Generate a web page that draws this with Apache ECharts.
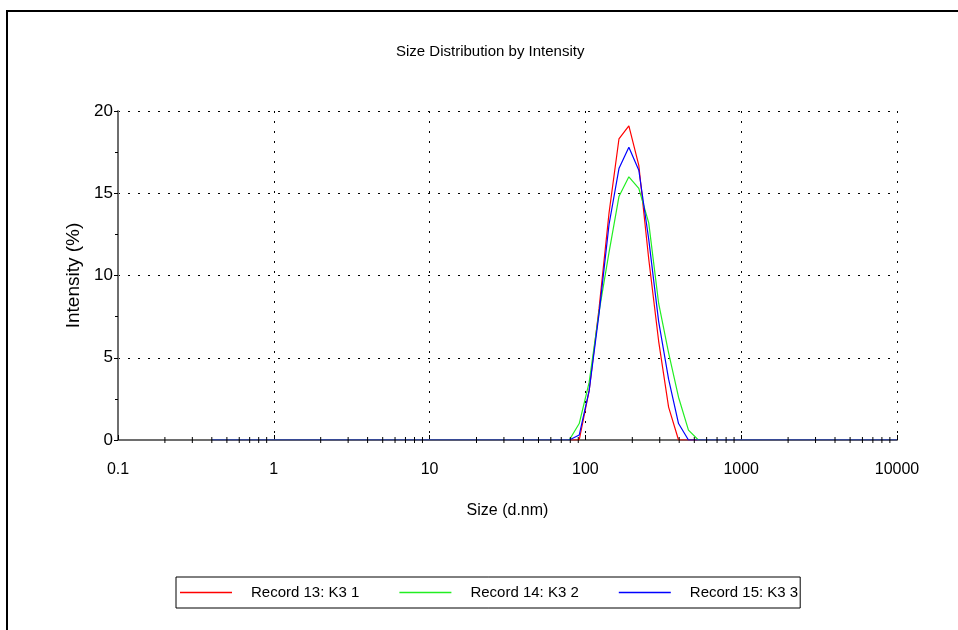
<!DOCTYPE html>
<html>
<head>
<meta charset="utf-8">
<script src="https://cdn.jsdelivr.net/npm/echarts@6/dist/echarts.min.js"></script>
<style>
html, body { margin: 0; padding: 0; background: #fff; }
#main { width: 958px; height: 630px; }
</style>
</head>
<body>
<div id="main"></div>
<script>
var FONT = '"Liberation Sans Narrow", "Liberation Sans", Arial, sans-serif';

// size classes (d.nm)
var sizes = [
    0.4, 0.4632, 0.5365, 0.6213, 0.7195, 0.8332, 0.9649, 1.117, 1.294, 1.499,
    1.736, 2.01, 2.328, 2.696, 3.122, 3.615, 4.187, 4.849, 5.615, 6.503,
    7.531, 8.721, 10.1, 11.7, 13.54, 15.69, 18.17, 21.04, 24.36, 28.21,
    32.67, 37.84, 43.82, 50.75, 58.77, 68.06, 78.82, 91.28, 105.7, 122.4,
    141.8, 164.2, 190.1, 220.2, 255, 295.3, 342, 396.1, 458.7, 531.2,
    615.1, 712.4, 825, 955.4, 1106, 1281, 1484, 1718, 1990, 2305,
    2669, 3091, 3580, 4145, 4801, 5560, 6439, 7456, 8635, 10000
];

// intensity (%)
var record13 = [
    0, 0, 0, 0, 0, 0, 0, 0, 0, 0, 0, 0, 0, 0, 0, 0, 0, 0, 0, 0,
    0, 0, 0, 0, 0, 0, 0, 0, 0, 0, 0, 0, 0, 0, 0, 0,
    0, 0, 3.0, 8.0, 13.8, 18.3, 19.1, 16.7, 11.0, 6.0, 2.0, 0, 0, 0,
    0, 0, 0, 0, 0, 0, 0, 0, 0, 0, 0, 0, 0, 0, 0, 0, 0, 0, 0, 0
];
var record14 = [
    0, 0, 0, 0, 0, 0, 0, 0, 0, 0, 0, 0, 0, 0, 0, 0, 0, 0, 0, 0,
    0, 0, 0, 0, 0, 0, 0, 0, 0, 0, 0, 0, 0, 0, 0, 0,
    0, 1.0, 3.5, 7.8, 11.4, 14.8, 16.0, 15.3, 13.2, 8.3, 5.3, 2.6, 0.6, 0,
    0, 0, 0, 0, 0, 0, 0, 0, 0, 0, 0, 0, 0, 0, 0, 0, 0, 0, 0, 0
];
var record15 = [
    0, 0, 0, 0, 0, 0, 0, 0, 0, 0, 0, 0, 0, 0, 0, 0, 0, 0, 0, 0,
    0, 0, 0, 0, 0, 0, 0, 0, 0, 0, 0, 0, 0, 0, 0, 0,
    0, 0.3, 3.0, 7.7, 13.1, 16.5, 17.8, 16.4, 12.2, 7.2, 3.7, 1.0, 0, 0,
    0, 0, 0, 0, 0, 0, 0, 0, 0, 0, 0, 0, 0, 0, 0, 0, 0, 0, 0, 0
];

var seriesNames = ['Record 13: K3 1', 'Record 14: K3 2', 'Record 15: K3 3'];
var seriesColors = ['#ff0000', '#22ee22', '#0000ff'];

// log minor tick positions on the size axis
var minorSizes = [
    0.2, 0.3, 0.4, 0.5, 0.6, 0.7, 0.8, 0.9,
    2, 3, 4, 5, 6, 7, 8, 9,
    20, 30, 40, 50, 60, 70, 80, 90,
    200, 300, 400, 500, 600, 700, 800, 900,
    2000, 3000, 4000, 5000, 6000, 7000, 8000, 9000
];

function pairs(ys) {
    return sizes.map(function (s, i) { return [s, ys[i]]; });
}

var chart = echarts.init(document.getElementById('main'));

var option = {
    backgroundColor: '#fff',
    animation: false,
    title: {
        text: 'Size Distribution by Intensity',
        left: 391,
        top: 39,
        textStyle: { fontFamily: FONT, fontSize: 15, fontWeight: 'normal', color: '#000' }
    },
    legend: {
        data: seriesNames,
        left: 176,
        top: 577,
        icon: 'rect',
        itemWidth: 52,
        itemHeight: 1.5,
        itemGap: 40,
        padding: [8, 2, 8, 4],
        borderColor: '#000',
        borderWidth: 1,
        textStyle: { fontFamily: FONT, fontSize: 15, color: '#000', padding: [0, 0, 0, 14] }
    },
    grid: { left: 118, right: 61, top: 111, bottom: 190 },
    xAxis: {
        type: 'log',
        logBase: 10,
        min: 0.1,
        max: 10000,
        splitNumber: 5,
        name: 'Size (d.nm)',
        nameLocation: 'middle',
        nameGap: 63,
        nameTextStyle: { fontFamily: FONT, fontSize: 16, color: '#000' },
        axisLine: { lineStyle: { color: '#6e6e6e', width: 2 } },
        axisTick: { show: true, inside: true, length: 5, lineStyle: { color: '#000' } },
        axisLabel: {
            margin: 22,
            fontFamily: FONT, fontSize: 16, color: '#000',
            formatter: function (v) { return String(+v.toPrecision(6)); }
        },
        splitLine: { show: true, lineStyle: { color: '#000', type: [2, 8], width: 1 } }
    },
    yAxis: {
        type: 'value',
        min: 0,
        max: 20,
        interval: 5,
        name: 'Intensity (%)',
        nameLocation: 'middle',
        nameGap: 31,
        nameTextStyle: { fontFamily: FONT, fontSize: 19, color: '#000' },
        axisLine: { show: true, lineStyle: { color: '#6e6e6e', width: 2 } },
        axisTick: { show: true, length: 4, lineStyle: { color: '#000' } },
        minorTick: { show: true, splitNumber: 2, length: 3, lineStyle: { color: '#000' } },
        axisLabel: { margin: 5, fontFamily: FONT, fontSize: 17, color: '#000' },
        splitLine: { show: true, lineStyle: { color: '#000', type: [2, 8], width: 1 } }
    },
    graphic: [{
        type: 'polyline',
        shape: { points: [[7, 630], [7, 11], [958, 11]] },
        style: { stroke: '#000', lineWidth: 2, fill: null },
        silent: true
    }],
    series: [
        {
            name: seriesNames[0], type: 'line', data: pairs(record13),
            showSymbol: false, symbol: 'none', color: seriesColors[0],
            lineStyle: { width: 1.2 }, z: 3
        },
        {
            name: seriesNames[1], type: 'line', data: pairs(record14),
            showSymbol: false, symbol: 'none', color: seriesColors[1],
            lineStyle: { width: 1.2 }, z: 4
        },
        {
            name: seriesNames[2], type: 'line', data: pairs(record15),
            showSymbol: false, symbol: 'none', color: seriesColors[2],
            lineStyle: { width: 1.2 }, z: 5
        },
        {
            type: 'custom',
            silent: true,
            clip: false,
            z: 10,
            data: minorSizes.map(function (v) { return [v, 0]; }),
            renderItem: function (params, api) {
                var p = api.coord([api.value(0), 0]);
                return {
                    type: 'line',
                    shape: { x1: p[0], y1: p[1] - 3, x2: p[0], y2: p[1] + 3 },
                    style: { stroke: '#000', lineWidth: 1 }
                };
            }
        }
    ]
};

chart.setOption(option);
</script>
</body>
</html>
